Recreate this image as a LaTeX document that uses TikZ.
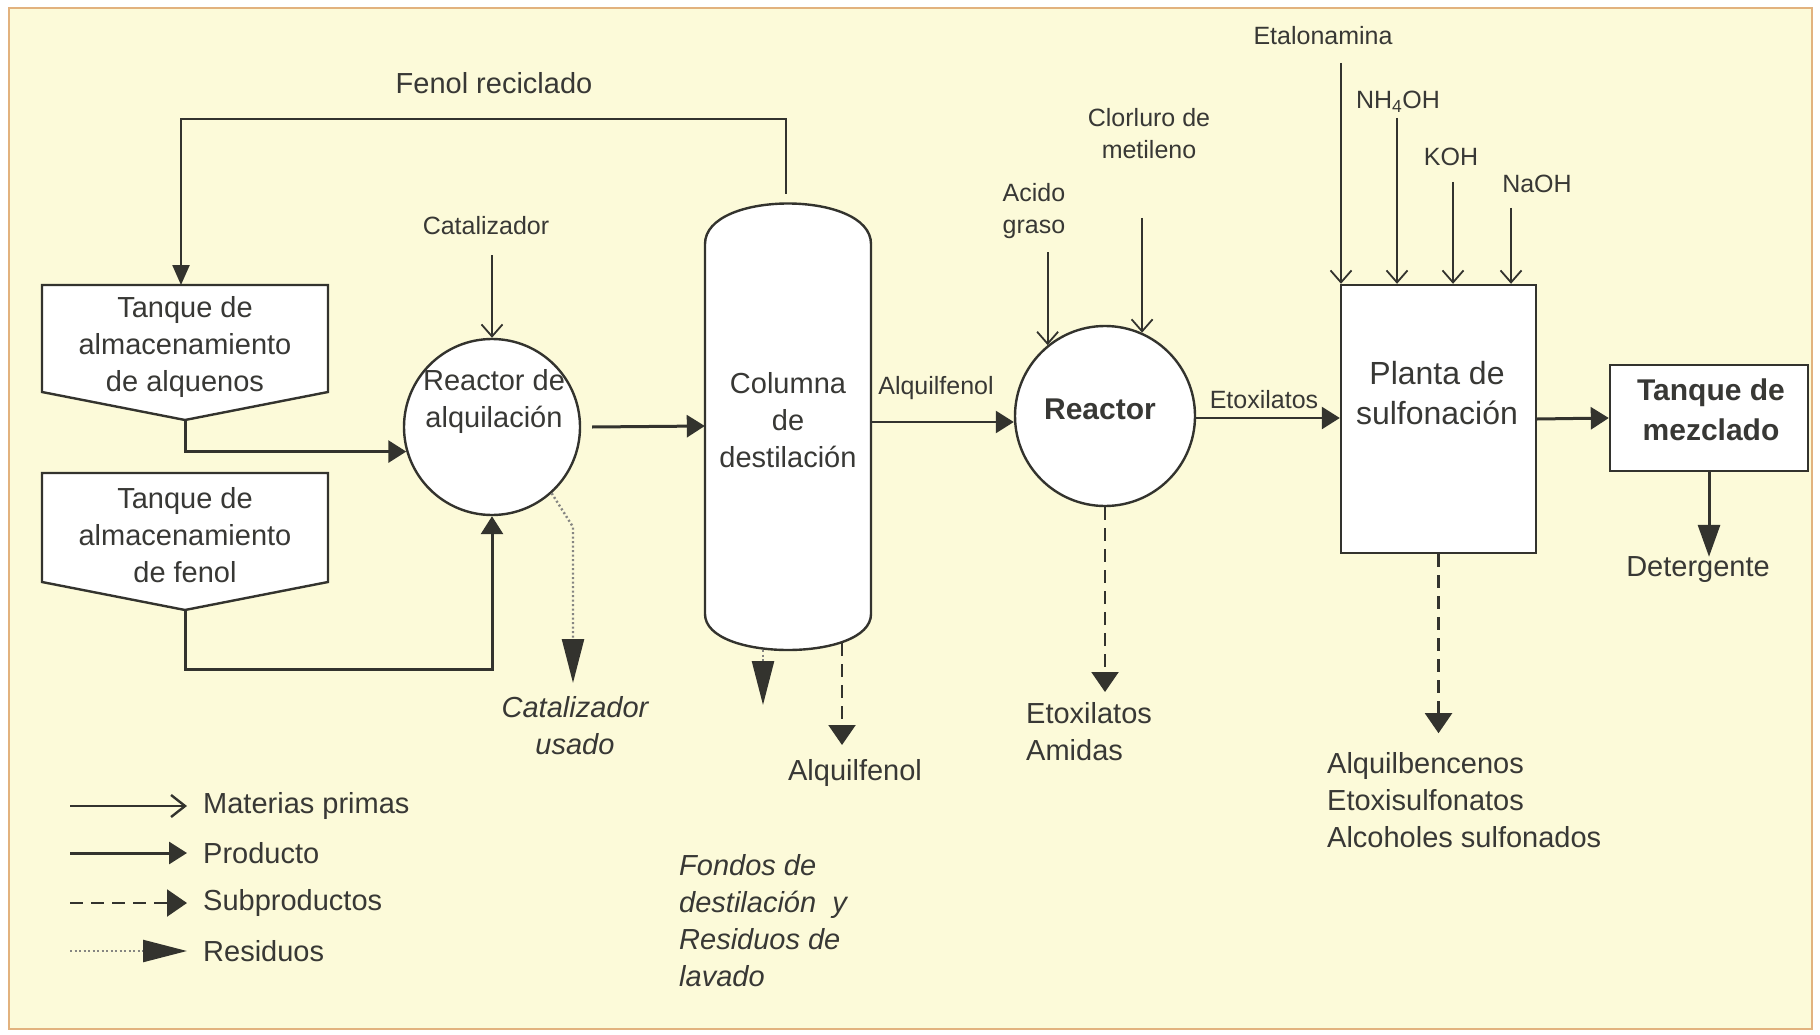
\documentclass[tikz,border=0pt]{standalone}
\usepackage{fontspec}
\setmainfont{Liberation Sans}
\usetikzlibrary{arrows.meta,calc}
\definecolor{paper}{HTML}{FCFAD9}
\definecolor{frame}{HTML}{E2B27E}
\definecolor{ink}{HTML}{33332E}
\definecolor{txt}{HTML}{383835}

\begin{document}
\begin{tikzpicture}[x=1pt,y=-1pt,
  every node/.style={text=txt, inner sep=0pt, align=center},
  big/.style={font=\fontsize{29}{37}\selectfont},
  ital/.style={font=\fontsize{29}{37}\selectfont\itshape},
  small/.style={font=\fontsize{25}{32}\selectfont},
  unit/.style={draw=ink, line width=2.4pt, fill=white},
  raw/.style={draw=ink, line width=1.8pt, -{Straight Barb[length=12pt,width=21pt]}},
  prod/.style={draw=ink, line width=3pt, -{Triangle[length=18pt,width=22pt]}},
  byprod/.style={draw=ink, line width=2.2pt, dash pattern=on 13pt off 8pt, -{Triangle[length=20pt,width=27pt,color=ink]}},
  waste/.style={draw=ink!60, line width=2.4pt, dash pattern=on 2pt off 2.5pt, -{Triangle[length=44pt,width=22pt,color=ink]}},
]

% page, paper and frame
\fill[white] (0,0) rectangle (1820,1035);
\path[use as bounding box] (0,0) rectangle (1820,1035);
\draw[frame, line width=2pt, fill=paper] (9,8) rectangle (1812,1029);

% storage tanks
\draw[unit] (42,285) -- (328,285) -- (328,392) -- (185,420) coordinate (T1tip) -- (42,392) -- cycle;
\coordinate (T1top) at (181,285);
\node[big] (T1) at (185,347) {Tanque de\\almacenamiento\\de alquenos};

\draw[unit] (42,473) -- (328,473) -- (328,582) -- (185,610) coordinate (T2tip) -- (42,582) -- cycle;
\node[big] (T2) at (185,535) {Tanque de\\almacenamiento\\de fenol};

% alkylation reactor
\node[unit, circle, minimum size=176pt] (R1) at (492,427) {};
\node[big] (R1t) at (494,401) {Reactor de\\alquilación};
\node[small] (cat) at (486,226) {Catalizador};
\coordinate (catin) at (492,255);
\draw[raw] (catin) -- (R1.north);

% distillation column
\draw[unit] (705,244) -- (705,614) .. controls (705,662) and (871,662) .. (871,614)
  -- (871,244) .. controls (871,190) and (705,190) .. (705,244) -- cycle;
\node[minimum width=166pt, minimum height=448pt] (C) at (788,426) {};
\node[big] (Ct) at (788,420) {Columna\\de\\destilación};

% phenol recycle
\node[big] (fr) at (494,83) {Fenol reciclado};
\draw[prod, line width=2.4pt, -{Triangle[length=20pt,width=17pt]}] ($(C.north)+(-2,-8)$) -- ++(0,-75) -| (T1top);

% feeds to the alkylation reactor
\draw[prod] (T1tip) |- (R1.196);
\draw[prod] (T2tip) -- ++(0,59) -| (R1.south);
\draw[prod] ($(R1.east)+(11,0)$) -- (C.west);

% spent catalyst
\draw[waste] (R1.-48) -- (573,527) -- (573,683);
\node[ital] (catu) at (575,726) {Catalizador\\usado};

% column bottoms
\coordinate (colbot) at (763,650);
\draw[waste] (colbot) -- ++(0,55);
\coordinate (colside) at (842,643);
\draw[byprod] (colside) -- ++(0,102);
\node[big] (alqb) at (855,773) {Alquilfenol};
\node[ital, align=left, anchor=west] (fondos) at (679,921) {Fondos de\\destilación~~y\\Residuos de\\lavado};

% ethoxylation reactor
\node[unit, circle, minimum size=180pt] (R2) at (1105,416) {};
\node[font=\fontsize{30}{36}\selectfont\bfseries] (R2t) at (1100,409) {Reactor};
\draw[prod, line width=2.6pt] (C.east |- 0,422) -- (R2.west |- 0,422);
\node[small] (alqt) at (936,388) {Alquilfenol};

\node[small] (ag) at (1034,211) {Acido\\graso};
\draw[raw] (R2.129 |- 0,252) -- (R2.129);
\node[small] (cm) at (1149,134) {Clorluro de\\metileno};
\draw[raw] (R2.66 |- 0,218) -- (R2.66);

\node[big, align=left, anchor=west] (eam) at (1026,732) {Etoxilatos\\Amidas};
\draw[byprod] (R2.south) -- (R2.south |- 0,692);

% sulfonation plant
\node[unit, rectangle, minimum width=195pt, minimum height=268pt] (P) at (1438.5,419) {};
\node[font=\fontsize{32}{40}\selectfont] (Pt) at (1437,393) {Planta de\\sulfonación};
\draw[prod, line width=2.6pt] (R2.east |- 0,418) -- (P.west |- 0,418);
\node[small] (etx) at (1264,400) {Etoxilatos};

\node[small] (et) at (1323,36) {Etalonamina};
\node[small] (nh) at (1398,102) {NH\textsubscript{4}OH};
\node[small] (koh) at (1451,157) {KOH};
\node[small] (naoh) at (1537,184) {NaOH};
\coordinate (inEt) at (1341,63);
\coordinate (inNH) at (1397,118);
\coordinate (inK) at (1453,182);
\coordinate (inNa) at (1511,208);
\foreach \c in {inEt,inNH,inK,inNa}
  \draw[raw] (\c) -- (\c |- P.north);

\node[big, align=left, anchor=west] (prods) at (1327,800) {Alquilbencenos\\Etoxisulfonatos\\Alcoholes sulfonados};
\draw[byprod] (P.south) -- ++(0,179);

% mixing tank
\node[unit, rectangle, minimum width=198pt, minimum height=106pt] (M) at (1709,418) {};
\node[font=\fontsize{30}{40}\selectfont\bfseries] (Mt) at (1711,410) {Tanque de\\mezclado};
\draw[prod] (P.east) -- (M.west);
\node[big] (det) at (1698,570) {Detergente};
\draw[prod, -{Triangle[length=32pt,width=22pt]}] (M.south) -- (M.south |- det.north);

% legend
\coordinate (l1a) at (70,806);
\coordinate (l2a) at (70,853);
\coordinate (l3a) at (70,903);
\coordinate (l4a) at (70,951);
\node[big, anchor=west] (l1) at (203,806) {Materias primas};
\node[big, anchor=west] (l2) at (203,853) {Producto};
\node[big, anchor=west] (l3) at (203,903) {Subproductos};
\node[big, anchor=west] (l4) at (203,951) {Residuos};
\draw[raw, line width=2.4pt, -{Straight Barb[length=14pt,width=22pt]}] (l1a) -- ($(l1.west)+(-16,0)$);
\draw[prod] (l2a) -- ($(l2.west)+(-16,0)$);
\draw[byprod] (l3a) -- ($(l3.west)+(-16,0)$);
\draw[waste] (l4a) -- ($(l4.west)+(-16,0)$);
\end{tikzpicture}
\end{document}
